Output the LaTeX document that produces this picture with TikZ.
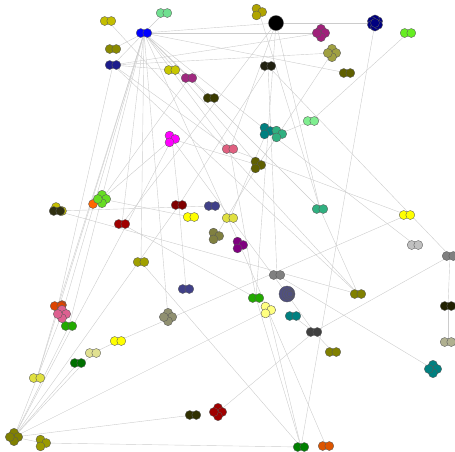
\documentclass[tikz,border=0pt]{standalone}
\usepackage{tikz}

\definecolor{cYelA}{HTML}{C4BE00}
\definecolor{cMint}{HTML}{70E090}
\definecolor{cBlue}{HTML}{0000FF}
\definecolor{cOliveA}{HTML}{8A8A00}
\definecolor{cNavyA}{HTML}{1C1C8C}
\definecolor{cYelB}{HTML}{C8C800}
\definecolor{cPlumA}{HTML}{A02880}
\definecolor{cDarkA}{HTML}{3A3A00}
\definecolor{cMagenta}{HTML}{FF00FF}
\definecolor{cGold}{HTML}{B0A400}
\definecolor{cNavyH}{HTML}{000080}
\definecolor{cPlumQ}{HTML}{A0207A}
\definecolor{cKhaki}{HTML}{A0A040}
\definecolor{cLime}{HTML}{66EE22}
\definecolor{cDarkB}{HTML}{202010}
\definecolor{cOliveB}{HTML}{606000}
\definecolor{cMintB}{HTML}{80EE90}
\definecolor{cTeal}{HTML}{008080}
\definecolor{cSea}{HTML}{30B080}
\definecolor{cPink}{HTML}{E06080}
\definecolor{cRed}{HTML}{800000}
\definecolor{cSlate}{HTML}{404088}
\definecolor{cYellow}{HTML}{FFFF00}
\definecolor{cYelD}{HTML}{E0E040}
\definecolor{cGreyT}{HTML}{808040}
\definecolor{cPurp}{HTML}{800080}
\definecolor{cGreenQ}{HTML}{66DD22}
\definecolor{cOrange}{HTML}{FF6600}
\definecolor{cDarkY}{HTML}{303010}
\definecolor{cRedB}{HTML}{A00000}
\definecolor{cOliveC}{HTML}{A0A000}
\definecolor{cSilver}{HTML}{C0C0C0}
\definecolor{cGrey}{HTML}{808080}
\definecolor{cOlive}{HTML}{808000}
\definecolor{cStone}{HTML}{909070}
\definecolor{cGreen}{HTML}{22AA00}
\definecolor{cSlateBig}{HTML}{505080}
\definecolor{cPale}{HTML}{FFFF80}
\definecolor{cChar}{HTML}{404040}
\definecolor{cDarkC}{HTML}{202000}
\definecolor{cKhakiA}{HTML}{B0B090}
\definecolor{cOrangeA}{HTML}{DD4400}
\definecolor{cPinkQ}{HTML}{DD6090}
\definecolor{cPaleA}{HTML}{E0E090}
\definecolor{cDGreen}{HTML}{007000}
\definecolor{cOliveT}{HTML}{9A9A00}
\definecolor{cDarkD}{HTML}{303000}
\definecolor{cGreenC}{HTML}{008000}
\definecolor{cOrangeB}{HTML}{DD5500}

\tikzset{
  link/.style={draw=black!20, line width=0.4pt},
  dot/.style={circle, draw=black!65, line width=0.35pt, minimum size=9pt, inner sep=0pt},
}

\begin{document}
\begin{tikzpicture}[x=1pt, y=-1pt]
  \useasboundingbox (0,0) rectangle (455,451);

  % cluster centres
  \foreach \n/\x/\y in {
    yelA/108/21, mintA/164/13, blue/144/33, oliveA/113/49, navyA/113/65,
    yelB/172/70, plumA/189/78, darkA/211/98, magenta/172/139,
    goldT/259/12, black/276/23, navyH/375/23, plumQ/321/33, khakiQ/332/53,
    lime/408/33, darkB/268/66, oliveB/347/73, mintB/311/121,
    tealT/267/131, seaT/279/134, pinkA/230/149, oliveT/258/165,
    redA/179/205, slateA/212/206, yelC/191/217, yelD/230/218,
    greyT/216/236, purpT/240/245, seaB/320/209,
    greenQ/102/199, orangeG/93/204, yelBlk/57/211, redB/122/224,
    oliveC/141/262, slateB/186/289,
    yelE/407/215, silver/415/245, greyA/450/256, greyB/277/275, oliveD/358/294,
    stoneQ/168/317, greenA/256/298, slateBig/287/294, paleT/268/310,
    tealA/293/316, charA/314/332, oliveE/333/352,
    darkC/448/306, khakiA/448/342, tealQ/433/369,
    orangeA/58/306, pinkQ/62/314, greenB/69/326, yelF/118/341, paleA/93/353,
    dGreen/78/363, yelG/37/378, oliveQ/14/437, oliveT2/43/443,
    darkD/193/415, redQ/218/412, greenC/301/447, orangeB/326/446}
    \coordinate (\n) at (\x,\y);

  % links
  \foreach \a/\b in {
    black/navyH, blue/black, blue/mintA, blue/oliveA, blue/navyA, blue/plumQ,
    blue/oliveB, blue/darkA, blue/tealT, blue/seaB, blue/oliveT, blue/pinkA,
    blue/purpT, blue/stoneQ, blue/oliveC, blue/redB, blue/orangeA, blue/pinkQ,
    blue/greenB, blue/yelG,
    navyA/orangeA, navyA/yelB, navyA/khakiQ, navyA/plumQ, navyA/pinkA, navyA/oliveD,
    yelA/oliveD, goldT/seaB, seaB/oliveD, black/pinkA, black/redB, black/seaB,
    black/greenA, navyH/greenC, lime/mintB, mintB/seaT, khakiQ/oliveT,
    darkB/redA, darkB/greyB, darkB/greyA, plumA/greenQ, greenQ/magenta,
    greenQ/yelC, yelBlk/slateA, yelBlk/oliveD, magenta/oliveT, magenta/slateBig,
    magenta/redA, oliveQ/magenta, redA/slateB, oliveQ/redA, oliveC/greenC,
    pinkA/yelE, pinkA/greenA, yelE/yelF, paleA/yelF, oliveQ/paleA, oliveQ/dGreen,
    oliveQ/greenB, oliveQ/pinkQ, oliveQ/paleT, oliveQ/darkD, oliveQ/oliveT2,
    yelG/orangeA, oliveT2/greenC, paleT/greenC, greenA/greenC, purpT/orangeB,
    redQ/charA, charA/greyA, charA/oliveE, charA/slateBig, charA/tealA,
    greyA/darkC, darkC/khakiA, greyB/tealQ, silver/tealT, greyT/oliveT,
    tealT/yelD, redB/greenA}
    \draw[link] (\a) -- (\b);

  % single dots
  \node[dot, fill=cOrange] (orangeG-a) at (orangeG) {};
  \node[dot, fill=cYelA] (yelBlk-a) at ([shift={(-1pt,4pt)}]yelBlk) {};
  \node[dot, fill=cYelA] (yelBlk-b) at ([shift={(5pt,0pt)}]yelBlk) {};
  \node[dot, fill=cOrangeA] (orangeA-c) at ([shift={(4pt,1pt)}]orangeA) {};

  % pairs
  \foreach \n/\c in {
    yelA/cYelA, mintA/cMint, blue/cBlue, oliveA/cOliveA, navyA/cNavyA,
    yelB/cYelB, plumA/cPlumA, darkA/cDarkA, lime/cLime, darkB/cDarkB,
    oliveB/cOliveB, mintB/cMintB, pinkA/cPink, redA/cRed, slateA/cSlate,
    yelC/cYellow, yelD/cYelD, seaB/cSea, redB/cRedB, oliveC/cOliveC,
    slateB/cSlate, yelE/cYellow, silver/cSilver, greyA/cGrey, greyB/cGrey,
    oliveD/cOlive, greenA/cGreen, tealA/cTeal, charA/cChar, oliveE/cOlive,
    darkC/cDarkC, khakiA/cKhakiA, greenB/cGreen, yelF/cYellow, paleA/cPaleA,
    dGreen/cDGreen, yelG/cYelD, darkD/cDarkD, greenC/cGreenC,
    orangeB/cOrangeB, orangeA/cOrangeA, yelBlk/cDarkY}{
    \node[dot, fill=\c] (\n-l) at ([xshift=-3.3pt]\n) {};
    \node[dot, fill=\c] (\n-r) at ([xshift=3.3pt]\n) {};
  }

  % threes
  \foreach \n/\c in {
    magenta/cMagenta, goldT/cGold, tealT/cTeal, seaT/cSea, oliveT/cOliveB,
    greyT/cGreyT, purpT/cPurp, paleT/cPale, oliveT2/cOliveT}{
    \node[dot, fill=\c] (\n-1) at ([shift={(-2.5pt,3.4pt)}]\n) {};
    \node[dot, fill=\c] (\n-2) at ([shift={(3.2pt,0pt)}]\n) {};
    \node[dot, fill=\c] (\n-3) at ([shift={(-2.5pt,-3.4pt)}]\n) {};
  }

  % fours
  \foreach \n/\c in {
    plumQ/cPlumQ, khakiQ/cKhaki, greenQ/cGreenQ, stoneQ/cStone,
    tealQ/cTeal, redQ/cRedB, oliveQ/cOlive, pinkQ/cPinkQ}{
    \foreach \a in {90,0,270,180}
      \node[dot, fill=\c] (\n-\a) at ([shift={(\a:4.2pt)}]\n) {};
  }

  % the big ones
  \node[dot, fill=black, minimum size=15pt] (black-c) at (black) {};
  \foreach \a in {30,90,...,330}
    \node[dot, fill=cNavyH] (navyH-\a) at ([shift={(\a:3.6pt)}]navyH) {};
  \node[dot, fill=cNavyH] (navyH-c) at (navyH) {};
  \node[dot, fill=cSlateBig, minimum size=16pt] (slateBig-c) at (slateBig) {};
  \foreach \s in {12,9,6}
    \node[dot, fill=cSlateBig, minimum size=\s pt] (slateBig-\s)
      at ([xshift={(16-\s)*0.3pt}]slateBig) {};
\end{tikzpicture}
\end{document}
